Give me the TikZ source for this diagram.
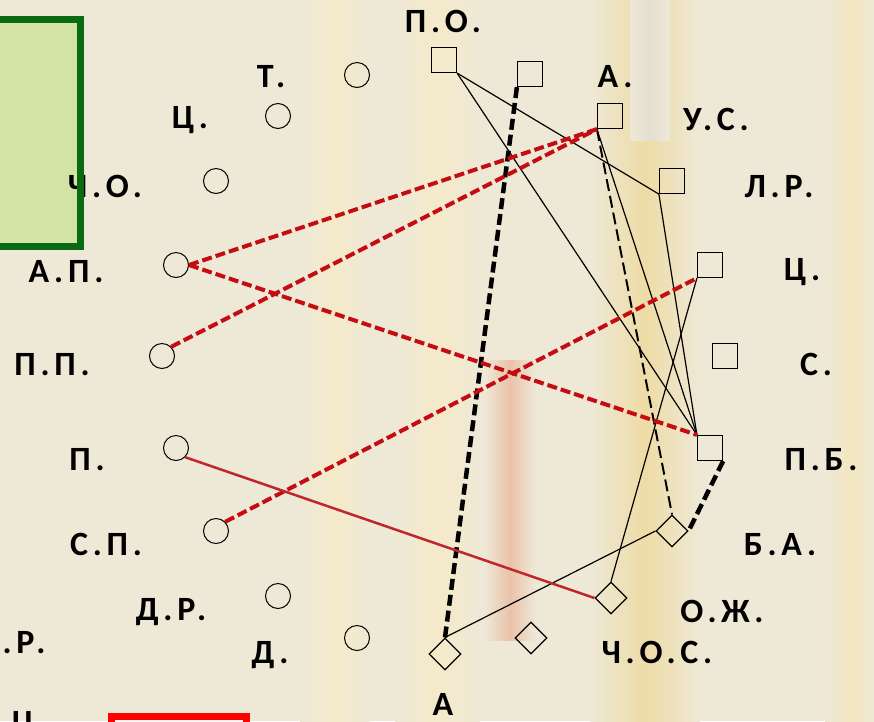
\documentclass[tikz,border=0pt]{standalone}
\usepackage{fontspec}
\setmainfont{Carlito}[LetterSpace=14]
\usetikzlibrary{shapes.geometric}

\definecolor{paper}{HTML}{EEE8D6}
\definecolor{sandy}{HTML}{EEDCA6}
\definecolor{rosy}{HTML}{E9C2A8}
\definecolor{greyish}{HTML}{DDD9CE}
\definecolor{darkred}{HTML}{C40C12}
\definecolor{wirered}{HTML}{C0272D}
\definecolor{leafgreen}{HTML}{D3E3A6}
\definecolor{framegreen}{HTML}{0A6A10}

\begin{document}
\begin{tikzpicture}[x=1pt, y=-1pt,
	circ/.style={draw, circle, minimum size=25pt, inner sep=0pt, line width=1pt},
	sq/.style={draw, rectangle, minimum size=25pt, inner sep=0pt, line width=1.2pt},
	dia/.style={draw, diamond, minimum size=32pt, inner sep=0pt, line width=1.2pt},
	lbl/.style={anchor=base, inner sep=0pt, font=\bfseries\fontsize{34}{34}\selectfont},
	link/.style={line width=1.2pt},
	boldlink/.style={line width=4.5pt, dash pattern=on 11pt off 5pt},
	dashlink/.style={line width=2pt, dash pattern=on 12pt off 5pt},
	reddash/.style={darkred, line width=4pt, dash pattern=on 10pt off 4pt},
	redlink/.style={wirered, line width=2.5pt}]
	\useasboundingbox (0,0) rectangle (874,721);
	\clip (0,0) rectangle (874,721);
	% paper
	\fill[paper] (0,0) rectangle (874,721);
	\shade[left color=paper, right color=paper, middle color=sandy!60] (300,0) rectangle (370,721);
	\shade[left color=paper, right color=paper, middle color=sandy!60] (395,0) rectangle (480,721);
	\shade[left color=paper, right color=paper, middle color=rosy] (485,360) rectangle (535,640);
	\shade[left color=paper, right color=paper, middle color=sandy] (590,0) rectangle (700,721);
	\shade[left color=paper, right color=paper, middle color=greyish!60!paper] (630,0) rectangle (670,140);
	\shade[left color=paper, right color=paper, middle color=sandy!70] (825,0) rectangle (874,721);

	% green box, frame drawn over its label
	\fill[leafgreen] (-10,19) rectangle (80,246);

	% labels
	\node[lbl] (lpo) at (443,32) {П.О.};
	\node[lbl] (lt) at (271,87) {Т.};
	\node[lbl] (lts) at (190,128) {Ц.};
	\node[lbl] (lcho) at (105,197) {Ч.О.};
	\node[lbl] (lap) at (66,282) {А.П.};
	\node[lbl] (lpp) at (52,375) {П.П.};
	\node[lbl] (lp) at (87,470) {П.};
	\node[lbl] (lsp) at (106,555) {С.П.};
	\node[lbl] (ldr) at (171,620) {Д.Р.};
	\node[lbl] (ld) at (270,663) {Д.};
	\node[lbl] (lr) at (24,653) {.Р.};
	\node[lbl] (lc) at (30,733) {Ц.};
	\node[lbl] (la) at (615,87) {А.};
	\node[lbl] (lus) at (716,130) {У.С.};
	\node[lbl] (llr) at (779,197) {Л.Р.};
	\node[lbl] (lts2) at (802,280) {Ц.};
	\node[lbl] (ls) at (816,375) {С.};
	\node[lbl] (lpb) at (821,470) {П.Б.};
	\node[lbl] (lba) at (780,555) {Б.А.};
	\node[lbl] (lozh) at (722,622) {О.Ж.};
	\node[lbl] (lchos) at (657,663) {Ч.О.С.};
	\node[lbl] (laa) at (443,715) {А};

	\draw[framegreen, line width=7pt] (-10,19) rectangle (80,246);
	\fill[paper!80!red!15] (111,716) rectangle (246,740);
	\draw[red, line width=7pt] (111,716) rectangle (246,740);

	% circles
	\node[circ] (t) at (357,75) {};
	\node[circ] (ts) at (278,116) {};
	\node[circ] (cho) at (216,181) {};
	\node[circ] (ap) at (176,265) {};
	\node[circ] (pp) at (162,356) {};
	\node[circ] (p) at (176,448) {};
	\node[circ] (sp) at (216,531) {};
	\node[circ] (dr) at (278,596) {};
	\node[circ] (d) at (357,638) {};

	% squares
	\node[sq] (po) at (444,60) {};
	\node[sq] (q) at (530,74) {};
	\node[sq] (a) at (610,116) {};
	\node[sq] (lrs) at (672,181) {};
	\node[sq] (tss) at (710,265) {};
	\node[sq] (s) at (725,356) {};
	\node[sq] (pb) at (710,448) {};

	% diamonds
	\node[dia] (ba) at (672,531) {};
	\node[dia] (ozh) at (611,598) {};
	\node[dia] (chos) at (531,638) {};
	\node[dia] (aa) at (445,654) {};

	% black links
	\draw[boldlink] (q.south west) -- (aa.north);
	\draw[boldlink] (pb.south east) -- (ba.east);
	\draw[dashlink] (a.south west) -- (ba.north);
	\draw[link] (po.south east) -- (lrs.south west);
	\draw[link] (po.south east) -- (pb.north west);
	\draw[link] (a.south west) -- (pb.north west);
	\draw[link] (lrs.south west) -- (pb.north west);
	\draw[link] (aa.north) -- (ba.west);
	\draw[link] (tss.south west) -- (ozh.north);

	% red links
	\draw[reddash] (ap.east) -- (a.south west);
	\draw[reddash] (pp.north east) -- (a.south west);
	\draw[reddash] (ap.east) -- (pb.north west);
	\draw[reddash] (sp.north east) -- (tss.south west);
	\draw[redlink] (p.south east) -- (ozh.west);
\end{tikzpicture}
\end{document}
